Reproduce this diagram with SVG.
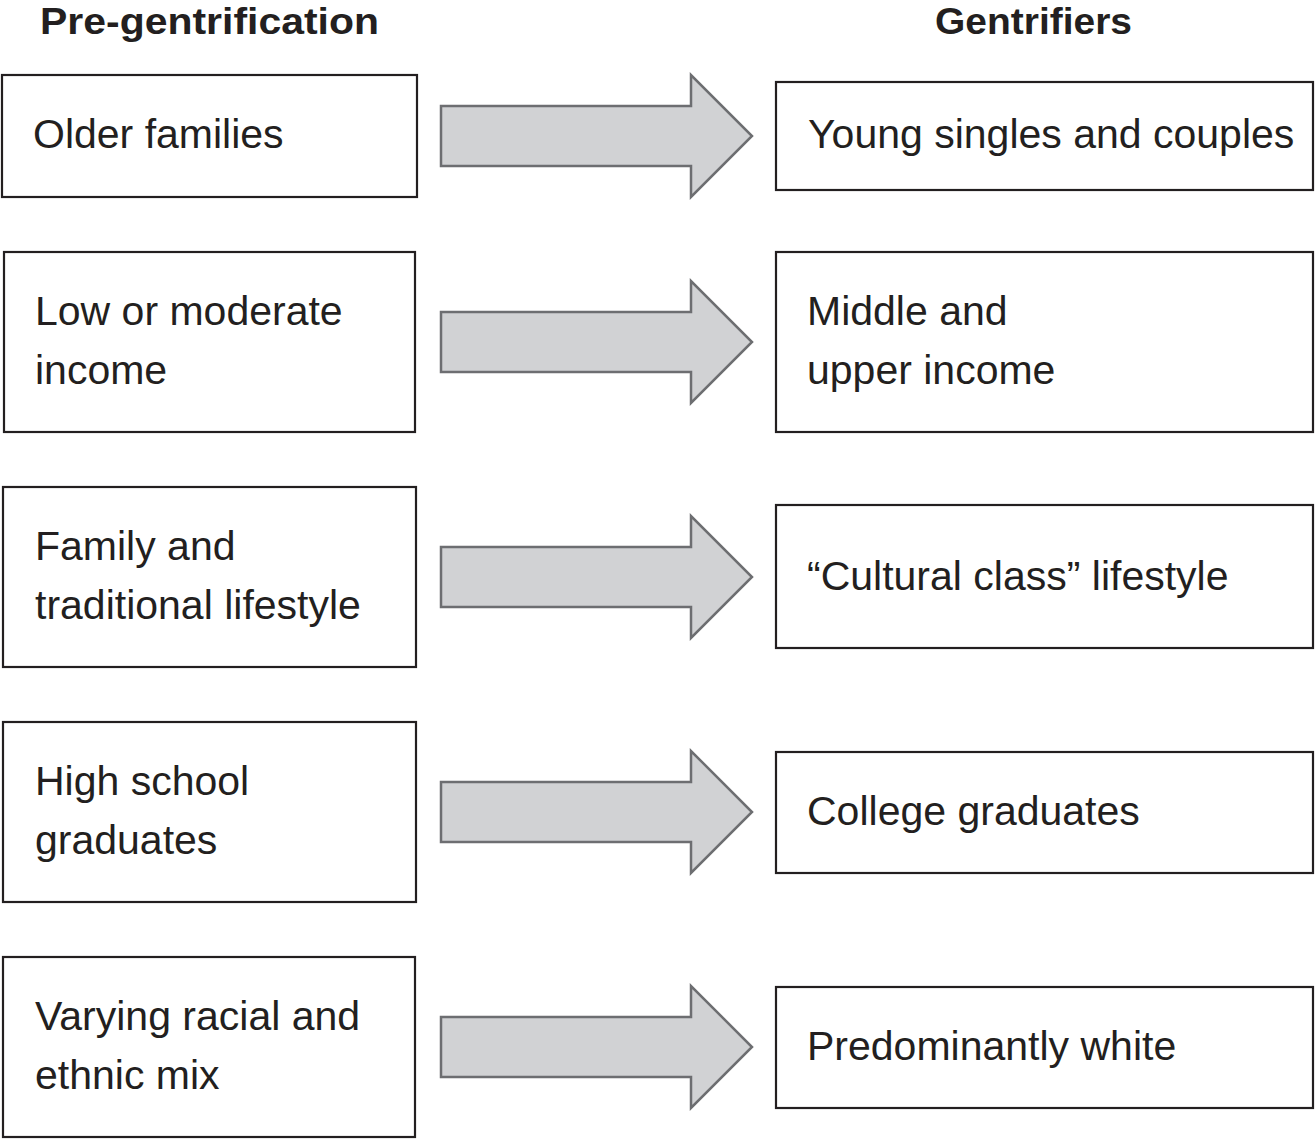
<svg xmlns="http://www.w3.org/2000/svg" width="1315" height="1139" viewBox="0 0 1315 1139">
<style>
.box{fill:#fff;stroke:#231f20;stroke-width:2.2}
.arr{fill:#d1d2d4;stroke:#6d6e71;stroke-width:2.5;stroke-linejoin:miter}
.t{font-family:"Liberation Sans",Arial,sans-serif;font-size:41px;fill:#231f20}
.h{font-family:"Liberation Sans",Arial,sans-serif;font-size:37px;font-weight:bold;fill:#231f20}
</style>
<rect width="1315" height="1139" fill="#fff"/>
<text class="h" x="40" y="34" textLength="339" lengthAdjust="spacingAndGlyphs">Pre-gentrification</text>
<text class="h" x="935" y="34" textLength="197" lengthAdjust="spacingAndGlyphs">Gentrifiers</text>
<g id="connectors">
<path class="arr" d="M441,106 H691 V75 L752,136 L691,197 V166 H441 Z"/>
<path class="arr" d="M441,312 H691 V281 L752,342 L691,403 V372 H441 Z"/>
<path class="arr" d="M441,547 H691 V516 L752,577 L691,638 V607 H441 Z"/>
<path class="arr" d="M441,782 H691 V751 L752,812 L691,873 V842 H441 Z"/>
<path class="arr" d="M441,1017 H691 V986 L752,1047 L691,1108 V1077 H441 Z"/>
</g>
<g id="l1"><rect class="box" x="2" y="75" width="415" height="122"/><text class="t" x="33" y="148">Older families</text></g>
<g id="l2"><rect class="box" x="4" y="252" width="411" height="180"/><text class="t" x="35" y="325">Low or moderate</text><text class="t" x="35" y="384">income</text></g>
<g id="l3"><rect class="box" x="3" y="487" width="413" height="180"/><text class="t" x="35" y="560">Family and</text><text class="t" x="35" y="619">traditional lifestyle</text></g>
<g id="l4"><rect class="box" x="3" y="722" width="413" height="180"/><text class="t" x="35" y="795">High school</text><text class="t" x="35" y="854">graduates</text></g>
<g id="l5"><rect class="box" x="3" y="957" width="412" height="180"/><text class="t" x="35" y="1030">Varying racial and</text><text class="t" x="35" y="1089">ethnic mix</text></g>
<g id="r1"><rect class="box" x="776" y="82" width="537" height="108"/><text class="t" x="808" y="148">Young singles and couples</text></g>
<g id="r2"><rect class="box" x="776" y="252" width="537" height="180"/><text class="t" x="807" y="325">Middle and</text><text class="t" x="807" y="384">upper income</text></g>
<g id="r3"><rect class="box" x="776" y="505" width="537" height="143"/><text class="t" x="807" y="590">“Cultural class” lifestyle</text></g>
<g id="r4"><rect class="box" x="776" y="752" width="537" height="121"/><text class="t" x="807" y="825">College graduates</text></g>
<g id="r5"><rect class="box" x="776" y="987" width="537" height="121"/><text class="t" x="807" y="1060">Predominantly white</text></g>
</svg>
